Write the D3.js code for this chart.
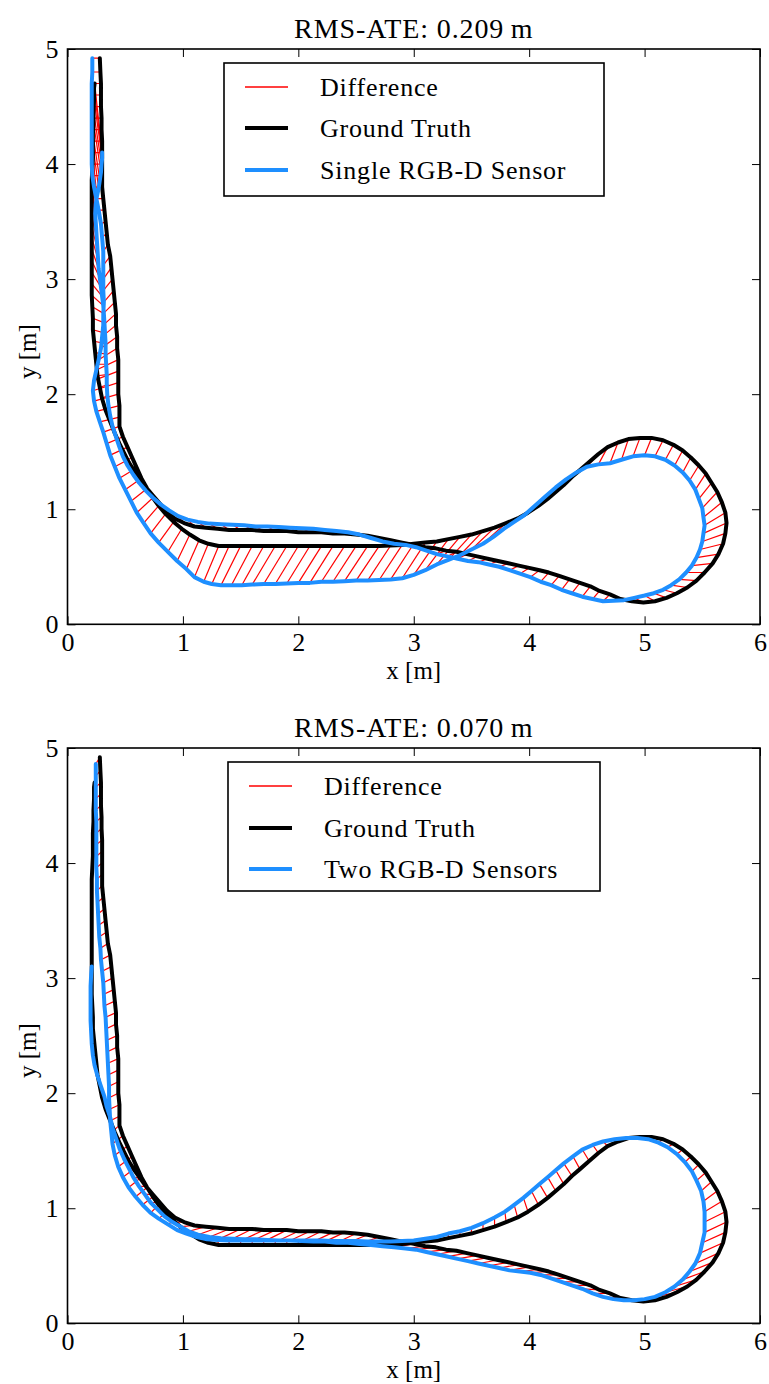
<!DOCTYPE html>
<html>
<head>
<meta charset="utf-8">
<script src="https://cdn.jsdelivr.net/npm/d3@7"></script>
<style>
  html, body { margin: 0; padding: 0; background: #fff; }
  svg text { font-family: "Liberation Serif", "DejaVu Serif", serif; fill: #000; }
</style>
</head>
<body>
<svg id="chart" width="769" height="1384"></svg>
<script>
// Axis ticks and labels
const xTicks = [0, 1, 2, 3, 4, 5, 6];
const yTicks = [0, 1, 2, 3, 4, 5];
const titles = ["RMS-ATE: 0.209\u2009m", "RMS-ATE: 0.070\u2009m"];
const legendLabels = ["Difference", "Ground Truth"];
const estimateLabels = ["Single RGB-D Sensor", "Two RGB-D Sensors"];

// Ground-truth trajectory [x, y] in metres (shared by both runs)
const groundTruth = [
  [0.28,4.92],[0.285,4.80],[0.29,4.70],[0.29,4.60],[0.29,4.50],[0.295,4.40],[0.295,4.30],[0.30,4.20],[0.30,4.10],[0.30,4.00],
  [0.30,3.90],[0.30,3.80],[0.31,3.70],[0.32,3.60],[0.33,3.50],[0.34,3.40],[0.35,3.30],[0.37,3.20],[0.38,3.10],[0.39,3.00],
  [0.40,2.90],[0.41,2.80],[0.42,2.70],[0.42,2.60],[0.43,2.50],[0.43,2.40],[0.44,2.30],[0.44,2.20],[0.44,2.10],[0.44,2.00],
  [0.45,1.90],[0.45,1.80],[0.45,1.72],
  [0.48,1.63],[0.52,1.54],[0.56,1.45],[0.60,1.36],[0.64,1.27],[0.69,1.18],[0.74,1.10],[0.79,1.03],[0.85,0.96],[0.92,0.89],
  [0.99,0.83],[1.06,0.78],[1.14,0.73],[1.22,0.70],[1.31,0.68],
  [1.40,0.68],[1.50,0.68],[1.60,0.68],[1.70,0.68],[1.80,0.68],[1.90,0.68],[2.00,0.68],[2.10,0.68],[2.20,0.68],[2.30,0.68],
  [2.40,0.68],[2.50,0.68],[2.60,0.68],[2.70,0.68],[2.80,0.685],[2.90,0.69],[3.00,0.70],
  [3.10,0.71],[3.20,0.72],[3.30,0.74],[3.40,0.76],[3.50,0.78],[3.60,0.81],[3.70,0.84],[3.80,0.88],[3.90,0.92],[3.99,0.97],
  [4.08,1.03],[4.16,1.09],[4.23,1.15],[4.30,1.21],[4.37,1.28],[4.44,1.34],[4.52,1.41],[4.60,1.48],[4.68,1.54],[4.77,1.58],
  [4.86,1.61],[4.96,1.62],
  [5.06,1.62],[5.16,1.60],[5.25,1.56],[5.33,1.51],[5.40,1.45],[5.47,1.38],[5.53,1.31],[5.58,1.23],[5.63,1.15],[5.67,1.06],
  [5.70,0.97],[5.71,0.88],[5.70,0.79],[5.68,0.70],[5.64,0.61],[5.59,0.53],[5.52,0.45],[5.45,0.38],[5.37,0.32],[5.28,0.27],
  [5.19,0.23],[5.09,0.20],[4.99,0.19],[4.89,0.20],[4.79,0.22],
  [4.70,0.26],[4.61,0.29],[4.53,0.33],[4.44,0.36],[4.35,0.39],[4.26,0.42],[4.17,0.45],[4.09,0.47],[4.00,0.49],[3.91,0.51],
  [3.82,0.53],[3.73,0.55],[3.64,0.57],[3.55,0.59],[3.46,0.61],[3.37,0.63],[3.28,0.64],[3.19,0.66],[3.10,0.67],[3.00,0.69],
  [2.90,0.71],[2.80,0.73],[2.70,0.75],[2.60,0.77],[2.50,0.78],[2.40,0.79],[2.30,0.79],[2.20,0.80],[2.10,0.80],[2.00,0.80],
  [1.90,0.81],[1.80,0.81],[1.70,0.81],[1.60,0.82],[1.50,0.82],[1.40,0.82],[1.30,0.83],[1.20,0.84],[1.10,0.85],[1.01,0.88],
  [0.93,0.92],
  [0.86,0.98],[0.80,1.05],[0.74,1.12],[0.68,1.19],[0.63,1.26],[0.58,1.33],[0.53,1.41],[0.49,1.49],[0.45,1.57],[0.41,1.66],
  [0.37,1.76],[0.33,1.86],[0.30,1.96],[0.28,2.06],[0.26,2.16],[0.25,2.26],[0.24,2.36],[0.23,2.46],[0.22,2.56],[0.22,2.66],
  [0.215,2.76],[0.21,2.86],[0.21,2.96],[0.21,3.06],[0.21,3.16],[0.21,3.26],[0.21,3.36],[0.21,3.46],[0.21,3.56],[0.21,3.66],
  [0.21,3.76],[0.21,3.86],[0.215,3.96],[0.22,4.06],[0.22,4.16],[0.22,4.26],[0.225,4.36],[0.225,4.46],[0.23,4.56],[0.23,4.66],
  [0.235,4.70]
];

// Estimated trajectory, single RGB-D sensor (same timestamps as groundTruth)
const estimateSingle = [
  [0.215,4.92],[0.215,4.80],[0.21,4.70],[0.21,4.60],[0.21,4.50],[0.21,4.40],[0.21,4.30],[0.21,4.20],[0.21,4.10],[0.21,4.00],
  [0.215,3.90],[0.23,3.80],[0.25,3.70],[0.27,3.60],[0.29,3.48],[0.30,3.36],[0.31,3.24],[0.31,3.12],[0.31,3.00],[0.31,2.90],
  [0.315,2.80],[0.31,2.70],[0.31,2.60],[0.30,2.50],[0.29,2.40],[0.27,2.30],[0.25,2.21],[0.23,2.12],[0.22,2.03],[0.23,1.94],
  [0.25,1.85],[0.28,1.76],[0.31,1.67],
  [0.34,1.57],[0.37,1.47],[0.41,1.37],[0.45,1.27],[0.50,1.17],[0.55,1.07],[0.60,0.97],[0.66,0.88],[0.72,0.79],[0.79,0.71],
  [0.87,0.63],[0.95,0.55],[1.03,0.48],[1.10,0.41],[1.18,0.37],
  [1.25,0.35],[1.33,0.34],[1.42,0.34],[1.51,0.34],[1.60,0.345],[1.70,0.35],[1.80,0.35],[1.90,0.355],[2.00,0.36],[2.10,0.36],
  [2.20,0.37],[2.30,0.37],[2.40,0.375],[2.50,0.38],[2.60,0.38],[2.70,0.385],[2.80,0.39],
  [2.90,0.40],[3.00,0.43],[3.10,0.47],[3.20,0.52],[3.30,0.56],[3.40,0.60],[3.50,0.65],[3.60,0.70],[3.69,0.76],[3.78,0.83],
  [3.87,0.89],[3.96,0.95],[4.05,1.03],[4.14,1.11],[4.23,1.19],[4.32,1.26],[4.41,1.32],[4.50,1.37],[4.60,1.39],[4.70,1.40],
  [4.80,1.43],[4.90,1.46],
  [5.00,1.47],[5.09,1.46],[5.18,1.43],[5.26,1.38],[5.33,1.32],[5.39,1.25],[5.44,1.17],[5.47,1.09],[5.50,1.01],[5.51,0.93],
  [5.52,0.86],[5.51,0.79],[5.50,0.72],[5.48,0.65],[5.45,0.58],[5.41,0.51],[5.36,0.45],[5.30,0.39],[5.23,0.34],[5.16,0.30],
  [5.08,0.27],[5.00,0.25],[4.91,0.23],[4.82,0.21],[4.73,0.205],
  [4.64,0.20],[4.55,0.22],[4.46,0.24],[4.37,0.27],[4.28,0.30],[4.19,0.34],[4.10,0.37],[4.01,0.41],[3.92,0.44],[3.83,0.47],
  [3.74,0.50],[3.65,0.52],[3.56,0.54],[3.47,0.55],[3.38,0.57],[3.29,0.59],[3.20,0.61],[3.11,0.64],[3.02,0.67],[2.93,0.69],
  [2.83,0.70],[2.73,0.72],[2.63,0.75],[2.53,0.78],[2.43,0.80],[2.33,0.81],[2.23,0.82],[2.13,0.83],[2.03,0.835],[1.93,0.84],
  [1.83,0.845],[1.73,0.85],[1.63,0.85],[1.53,0.86],[1.43,0.865],[1.33,0.87],[1.23,0.875],[1.13,0.89],[1.04,0.91],[0.96,0.94],
  [0.88,0.99],
  [0.81,1.04],[0.74,1.10],[0.68,1.16],[0.62,1.23],[0.57,1.30],[0.52,1.38],[0.48,1.46],[0.45,1.54],[0.42,1.63],[0.39,1.72],
  [0.37,1.81],[0.355,1.90],[0.345,1.99],[0.34,2.08],[0.34,2.17],[0.335,2.26],[0.33,2.35],[0.33,2.44],[0.325,2.53],[0.32,2.62],
  [0.315,2.70],[0.31,2.77],[0.30,2.85],[0.29,2.93],[0.28,3.01],[0.27,3.09],[0.265,3.17],[0.26,3.25],[0.255,3.33],[0.25,3.41],
  [0.245,3.49],[0.24,3.57],[0.245,3.65],[0.255,3.72],[0.27,3.79],[0.28,3.86],[0.29,3.93],[0.295,4.00],[0.30,4.05],[0.30,4.08],
  [0.30,4.10]
];

// Estimated trajectory, two RGB-D sensors (ends before the ground truth does)
const estimateDual = [
  [0.245,4.86],[0.245,4.76],[0.245,4.66],[0.245,4.56],[0.245,4.46],[0.25,4.36],[0.25,4.26],[0.25,4.16],[0.25,4.06],[0.25,3.96],
  [0.255,3.86],[0.255,3.76],[0.26,3.66],[0.265,3.56],[0.27,3.46],[0.275,3.36],[0.285,3.26],[0.29,3.16],[0.30,3.06],[0.31,2.96],
  [0.315,2.86],[0.32,2.76],[0.33,2.66],[0.335,2.56],[0.34,2.46],[0.345,2.36],[0.35,2.26],[0.355,2.16],[0.36,2.06],[0.36,1.96],
  [0.365,1.86],[0.37,1.76],[0.38,1.66],
  [0.39,1.56],[0.41,1.46],[0.44,1.36],[0.48,1.27],[0.53,1.18],[0.59,1.10],[0.65,1.03],[0.72,0.96],[0.79,0.91],[0.87,0.86],
  [0.95,0.81],[1.03,0.78],[1.12,0.75],[1.21,0.73],[1.30,0.725],
  [1.40,0.72],[1.50,0.72],[1.60,0.72],[1.70,0.72],[1.80,0.72],[1.90,0.72],[2.00,0.72],[2.10,0.72],[2.20,0.72],[2.30,0.715],
  [2.40,0.715],[2.50,0.715],[2.60,0.71],[2.70,0.71],[2.80,0.71],[2.90,0.715],[3.00,0.72],
  [3.10,0.735],[3.20,0.75],[3.30,0.78],[3.40,0.80],[3.50,0.83],[3.60,0.87],[3.70,0.92],[3.79,0.97],[3.87,1.03],[3.95,1.09],
  [4.02,1.15],[4.09,1.21],[4.16,1.27],[4.23,1.33],[4.30,1.39],[4.38,1.45],[4.46,1.51],[4.55,1.55],[4.64,1.58],[4.74,1.60],
  [4.84,1.61],[4.94,1.61],
  [5.03,1.60],[5.12,1.57],[5.20,1.53],[5.28,1.47],[5.35,1.40],[5.41,1.32],[5.45,1.24],[5.49,1.15],[5.51,1.06],[5.52,0.97],
  [5.52,0.88],[5.52,0.79],[5.50,0.70],[5.48,0.61],[5.44,0.52],[5.39,0.45],[5.33,0.38],[5.26,0.32],[5.18,0.27],[5.09,0.23],
  [5.00,0.21],[4.91,0.20],[4.82,0.20],[4.73,0.21],[4.64,0.23],
  [4.55,0.26],[4.46,0.30],[4.37,0.33],[4.28,0.36],[4.19,0.39],[4.10,0.42],[4.01,0.44],[3.92,0.45],[3.83,0.46],[3.74,0.48],
  [3.65,0.50],[3.56,0.52],[3.47,0.54],[3.38,0.56],[3.29,0.58],[3.20,0.60],[3.11,0.62],[3.02,0.64],[2.93,0.65],[2.83,0.66],
  [2.73,0.67],[2.63,0.68],[2.53,0.69],[2.43,0.70],[2.33,0.70],[2.23,0.71],[2.13,0.71],[2.03,0.715],[1.93,0.72],[1.83,0.72],
  [1.73,0.725],[1.63,0.73],[1.53,0.73],[1.43,0.735],[1.33,0.74],[1.23,0.75],[1.13,0.77],[1.05,0.80],[0.98,0.84],[0.91,0.88],
  [0.84,0.93],
  [0.78,0.99],[0.72,1.05],[0.67,1.12],[0.62,1.19],[0.57,1.27],[0.53,1.35],[0.49,1.43],[0.45,1.52],[0.42,1.61],[0.39,1.70],
  [0.37,1.79],[0.34,1.88],[0.32,1.97],[0.29,2.06],[0.26,2.15],[0.235,2.24],[0.22,2.33],[0.21,2.43],[0.205,2.53],[0.20,2.63],
  [0.20,2.73],[0.20,2.83],[0.20,2.93],[0.205,3.03],[0.21,3.10]
];

const COLORS = { diff: "#ff0000", truth: "#000000", estimate: "#1e8fff" };
const FONT = '"Liberation Serif", "DejaVu Serif", serif';

const svg = d3.select("#chart");
svg.append("rect").attr("width", 769).attr("height", 1384).attr("fill", "#fff");

const plotLeft = 67.5, plotRight = 760;

const panels = [
  { title: titles[0], est: estimateSingle, estLabel: estimateLabels[0],
    top: 49, bottom: 624.3, titleY: 38, xlabY: 679,
    legend: { x: 224, y: 63, w: 380, h: 133, sx: 245, tx: 320, rows: [87, 128, 170] } },
  { title: titles[1], est: estimateDual, estLabel: estimateLabels[1],
    top: 748, bottom: 1323.3, titleY: 737, xlabY: 1378,
    legend: { x: 228, y: 762, w: 372, h: 129, sx: 249, tx: 324, rows: [786, 828, 869] } }
];

panels.forEach((p, pi) => {
  const x = d3.scaleLinear().domain([0, 6]).range([plotLeft, plotRight]);
  const y = d3.scaleLinear().domain([0, 5]).range([p.bottom, p.top]);
  const g = svg.append("g");

  const clipId = "clip" + pi;
  g.append("clipPath").attr("id", clipId).append("rect")
    .attr("x", plotLeft).attr("y", p.top)
    .attr("width", plotRight - plotLeft).attr("height", p.bottom - p.top);

  const plot = g.append("g").attr("clip-path", `url(#${clipId})`);

  // difference segments between matching timestamps
  const n = Math.min(groundTruth.length, p.est.length);
  plot.append("g").selectAll("line")
    .data(d3.range(n))
    .join("line")
    .attr("x1", i => x(groundTruth[i][0])).attr("y1", i => y(groundTruth[i][1]))
    .attr("x2", i => x(p.est[i][0])).attr("y2", i => y(p.est[i][1]))
    .attr("stroke", COLORS.diff).attr("stroke-width", 1.2);

  const line = d3.line().x(d => x(d[0])).y(d => y(d[1])).curve(d3.curveLinear);

  plot.append("path").datum(groundTruth)
    .attr("d", line).attr("fill", "none")
    .attr("stroke", COLORS.truth).attr("stroke-width", 4)
    .attr("stroke-linejoin", "round").attr("stroke-linecap", "round");

  plot.append("path").datum(p.est)
    .attr("d", line).attr("fill", "none")
    .attr("stroke", COLORS.estimate).attr("stroke-width", 4)
    .attr("stroke-linejoin", "round").attr("stroke-linecap", "round");

  // axes with inward ticks on all four sides
  const fmt = d3.format("d");
  const axB = g.append("g").attr("transform", `translate(0,${p.bottom})`)
    .call(d3.axisBottom(x).tickValues(xTicks).tickFormat(fmt).tickSizeInner(-8).tickSizeOuter(0).tickPadding(8));
  const axT = g.append("g").attr("transform", `translate(0,${p.top})`)
    .call(d3.axisTop(x).tickValues(xTicks).tickFormat("").tickSizeInner(-8).tickSizeOuter(0));
  const axL = g.append("g").attr("transform", `translate(${plotLeft},0)`)
    .call(d3.axisLeft(y).tickValues(yTicks).tickFormat(fmt).tickSizeInner(-8).tickSizeOuter(0).tickPadding(9));
  const axR = g.append("g").attr("transform", `translate(${plotRight},0)`)
    .call(d3.axisRight(y).tickValues(yTicks).tickFormat("").tickSizeInner(-8).tickSizeOuter(0));
  [axB, axT, axL, axR].forEach(a => {
    a.select(".domain").remove();
    a.selectAll(".tick line").attr("stroke", "#000").attr("stroke-width", 1);
    a.selectAll("text").attr("font-size", 26).attr("font-family", FONT).attr("fill", "#000");
  });

  // frame
  g.append("rect").attr("x", plotLeft).attr("y", p.top)
    .attr("width", plotRight - plotLeft).attr("height", p.bottom - p.top)
    .attr("fill", "none").attr("stroke", "#000").attr("stroke-width", 1.6);

  // titles and axis labels
  g.append("text").attr("x", (plotLeft + plotRight) / 2).attr("y", p.titleY)
    .attr("text-anchor", "middle").attr("font-size", 28).attr("letter-spacing", 0.9)
    .text(p.title);
  g.append("text").attr("x", (plotLeft + plotRight) / 2).attr("y", p.xlabY)
    .attr("text-anchor", "middle").attr("font-size", 25).text("x [m]");
  g.append("text")
    .attr("transform", `translate(36,${(p.top + p.bottom) / 2 + 15}) rotate(-90)`)
    .attr("text-anchor", "middle").attr("font-size", 25).text("y [m]");

  // legend
  const L = p.legend;
  const lg = g.append("g");
  lg.append("rect").attr("x", L.x).attr("y", L.y).attr("width", L.w).attr("height", L.h)
    .attr("fill", "#fff").attr("stroke", "#000").attr("stroke-width", 1.6);
  const entries = [
    { label: legendLabels[0], color: COLORS.diff, w: 1.4 },
    { label: legendLabels[1], color: COLORS.truth, w: 4 },
    { label: p.estLabel, color: COLORS.estimate, w: 4 }
  ];
  entries.forEach((e, k) => {
    const cy = L.rows[k];
    lg.append("line").attr("x1", L.sx).attr("x2", L.sx + 43).attr("y1", cy).attr("y2", cy)
      .attr("stroke", e.color).attr("stroke-width", e.w);
    lg.append("text").attr("x", L.tx).attr("y", cy + 9)
      .attr("font-size", 26).attr("letter-spacing", 0.8).text(e.label);
  });
});
</script>
</body>
</html>
